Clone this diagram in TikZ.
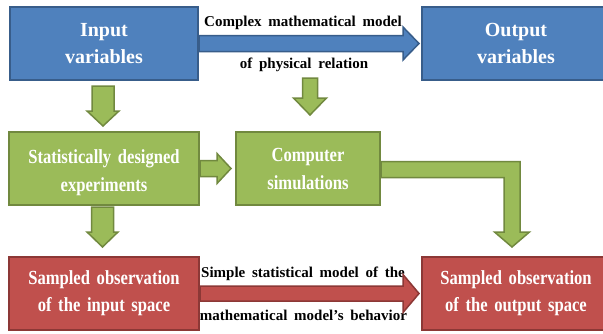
\documentclass[tikz,border=0pt]{standalone}
\usepackage{fontspec}
\setmainfont{Liberation Serif}
\newfontfamily\narrowserif{Liberation Serif}[FakeStretch=0.83,WordSpace=1.6]
\newfontfamily\labelserif{Liberation Serif}[WordSpace=1.8]
\usetikzlibrary{calc}
\definecolor{ssBlue}{RGB}{79,129,189}
\definecolor{ssBlueD}{RGB}{56,93,138}
\definecolor{ssGreen}{RGB}{155,187,89}
\definecolor{ssGreenD}{RGB}{113,137,63}
\definecolor{ssRed}{RGB}{192,80,77}
\definecolor{ssRedD}{RGB}{140,56,54}
% block arrows: style, start, tip, half shaft, half head, head length
\newcommand{\hblock}[6]{\path[#1] let \p1=(#2), \p2=(#3) in
  (\x1,\y1+#4pt) -- (\x2-#6pt,\y1+#4pt) -- (\x2-#6pt,\y1+#5pt) -- (\x2,\y1)
  -- (\x2-#6pt,\y1-#5pt) -- (\x2-#6pt,\y1-#4pt) -- (\x1,\y1-#4pt) -- cycle;}
\newcommand{\vblock}[6]{\path[#1] let \p1=(#2), \p2=(#3) in
  (\x1-#4pt,\y1) -- (\x1-#4pt,\y2+#6pt) -- (\x1-#5pt,\y2+#6pt) -- (\x1,\y2)
  -- (\x1+#5pt,\y2+#6pt) -- (\x1+#4pt,\y2+#6pt) -- (\x1+#4pt,\y1) -- cycle;}

\begin{document}
\begin{tikzpicture}[x=1pt,y=1pt,
  box/.style={line width=2pt,minimum height=73pt,align=center,text=white,inner sep=2pt},
  bluebox/.style={box,fill=ssBlue,draw=ssBlueD,minimum width=188pt,
            font=\bfseries\fontsize{20}{27}\selectfont},
  greenbox/.style={box,fill=ssGreen,draw=ssGreenD,
            font=\narrowserif\bfseries\fontsize{20}{28}\selectfont},
  redbox/.style={box,fill=ssRed,draw=ssRedD,
            font=\narrowserif\bfseries\fontsize{20}{27}\selectfont},
  lbl/.style={anchor=base,inner sep=0pt,font=\labelserif\bfseries\fontsize{15}{18}\selectfont},
  barr/.style={fill=ssBlue,draw=ssBlueD,line width=1.5pt},
  garr/.style={fill=ssGreen,draw=ssGreenD,line width=1.5pt},
  rarr/.style={fill=ssRed,draw=ssRedD,line width=1.5pt}]
\useasboundingbox (0,0) rectangle (603,333);
\node[bluebox] (inp) at (104,289.5) {Input\\variables};
\node[bluebox] (outp) at (516,289.5) {Output\\variables};
\node[greenbox,minimum width=190pt] (stat) at (104,164.5)
  {\rule{0pt}{22pt}Statistically designed\\experiments};
\node[greenbox,minimum width=144pt] (comp) at (308,164.5) {Computer\\simulations};
\node[redbox,minimum width=190pt] (sin) at (104,39.5) {Sampled observation\\of the input space};
\node[redbox,minimum width=188pt] (sout) at (516,39.5) {Sampled observation\\of the output space};
\node[lbl] (cmplx) at (303,306) {Complex mathematical model};
\node[lbl] (phys) at (304,265) {of physical relation};
\node[lbl] (simp) at (303,56) {Simple statistical model of the};
\node[lbl] (behav) at (303.5,13) {mathematical model’s behavior};
\coordinate (simtop) at (310,255);
\hblock{barr}{inp.east}{$(outp.west)+(-2,0)$}{8}{16.5}{16}
\hblock{rarr}{sin.east}{$(sout.west)+(-2,0)$}{7.5}{19}{16}
\hblock{garr}{stat.east}{$(comp.west)+(-4,0)$}{8}{15}{14}
\vblock{garr}{$(inp.south)+(-1,-5)$}{$(stat.north)+(-1,5)$}{11}{16}{15}
\vblock{garr}{$(stat.south)+(-1.5,-1)$}{$(sin.north)+(-1.5,9)$}{11}{15.5}{15}
\vblock{garr}{simtop}{$(comp.north)+(2,16)$}{7.5}{16.5}{17}
\path[garr] let \p1=(comp.east), \p2=($(sout.north)+(-4,9)$) in
  (\x1,\y1+7pt) -- (\x2+8pt,\y1+7pt) -- (\x2+8pt,\y2+15pt) -- (\x2+17.5pt,\y2+15pt)
  -- (\x2,\y2) -- (\x2-17.5pt,\y2+15pt) -- (\x2-8pt,\y2+15pt) -- (\x2-8pt,\y1-9pt)
  -- (\x1,\y1-9pt) -- cycle;
\end{tikzpicture}
\end{document}
